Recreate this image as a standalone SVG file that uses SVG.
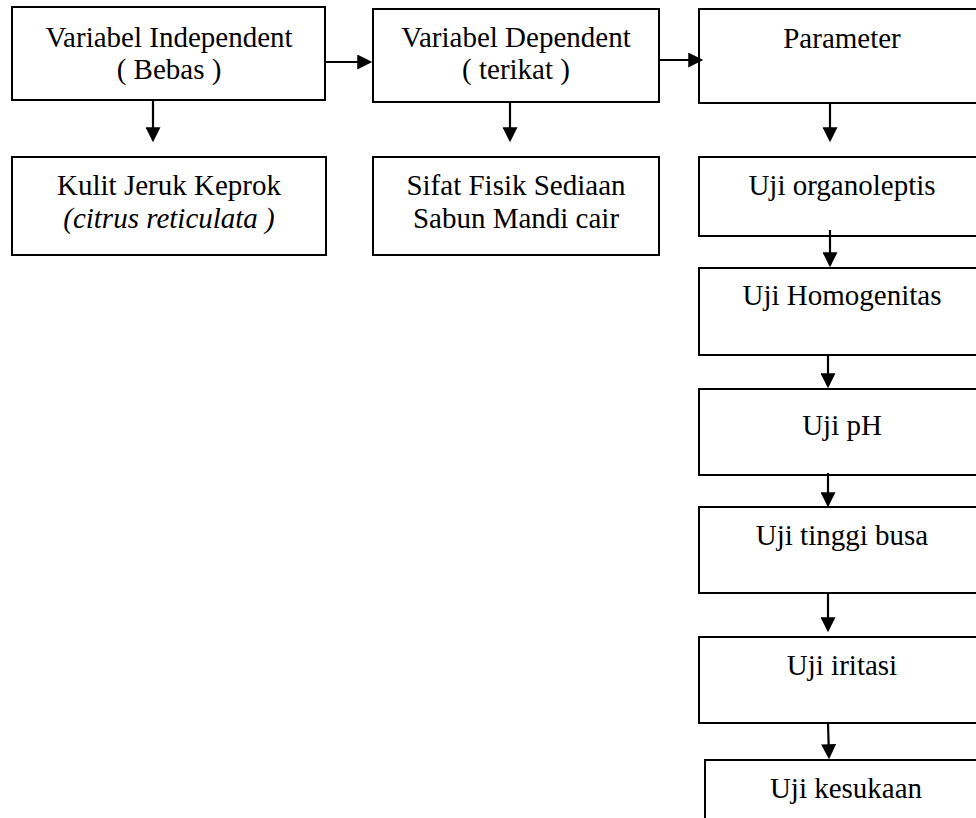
<svg xmlns="http://www.w3.org/2000/svg" width="976" height="818" viewBox="0 0 976 818">
<style>
.box{fill:#fff;stroke:#000;stroke-width:2}
.t{font-family:"Liberation Serif","Times New Roman",serif;font-size:29px;fill:#000;text-anchor:middle}
.i{font-style:italic}
.c{stroke:#000;stroke-width:2.2;fill:none;marker-end:url(#ah)}
</style>
<defs>
<marker id="ah" viewBox="0 0 10 10" refX="8.5" refY="5" markerWidth="16" markerHeight="15" markerUnits="userSpaceOnUse" orient="auto">
<path d="M0,0 L10,5 L0,10 Z" fill="#000"/>
</marker>
</defs>
<rect width="976" height="818" fill="#fff"/>
<g id="n-independent"><rect class="box" x="12" y="7" width="313" height="93"/><text class="t" x="169" y="47">Variabel Independent</text><text class="t" x="169" y="79">( Bebas )</text></g>
<g id="n-dependent"><rect class="box" x="373" y="9" width="286" height="93"/><text class="t" x="516" y="47">Variabel Dependent</text><text class="t" x="516" y="79">( terikat )</text></g>
<g id="n-parameter"><rect class="box" x="699" y="9" width="290" height="94"/><text class="t" x="842" y="48">Parameter</text></g>
<g id="n-kulit"><rect class="box" x="12" y="157" width="314" height="98"/><text class="t" x="169" y="195">Kulit Jeruk Keprok</text><text class="t i" x="169" y="228">(citrus reticulata )</text></g>
<g id="n-sifat"><rect class="box" x="373" y="157" width="286" height="98"/><text class="t" x="516" y="195">Sifat Fisik Sediaan</text><text class="t" x="516" y="228">Sabun Mandi cair</text></g>
<g id="n-organoleptis"><rect class="box" x="699" y="157" width="290" height="79"/><text class="t" x="842" y="195">Uji organoleptis</text></g>
<g id="n-homogenitas"><rect class="box" x="699" y="268" width="290" height="87"/><text class="t" x="842" y="305">Uji Homogenitas</text></g>
<g id="n-ph"><rect class="box" x="699" y="389" width="290" height="86"/><text class="t" x="842" y="435">Uji pH</text></g>
<g id="n-tinggi"><rect class="box" x="699" y="507" width="290" height="86"/><text class="t" x="842" y="545">Uji tinggi busa</text></g>
<g id="n-iritasi"><rect class="box" x="699" y="637" width="290" height="86"/><text class="t" x="842" y="675">Uji iritasi</text></g>
<g id="n-kesukaan"><rect class="box" x="705" y="760" width="290" height="90"/><text class="t" x="846" y="798">Uji kesukaan</text></g>
<g id="connectors">
<line class="c" x1="325" y1="62" x2="370" y2="62"/>
<line class="c" x1="659" y1="60" x2="701" y2="60"/>
<line class="c" x1="153" y1="100" x2="153" y2="140"/>
<line class="c" x1="510" y1="102" x2="510" y2="140"/>
<line class="c" x1="830" y1="103" x2="830" y2="140"/>
<line class="c" x1="830" y1="230" x2="830" y2="265"/>
<line class="c" x1="828" y1="355" x2="828" y2="386"/>
<line class="c" x1="828" y1="473" x2="828" y2="505"/>
<line class="c" x1="828" y1="593" x2="828" y2="630"/>
<line class="c" x1="828" y1="723" x2="829" y2="757"/>
</g>
</svg>
